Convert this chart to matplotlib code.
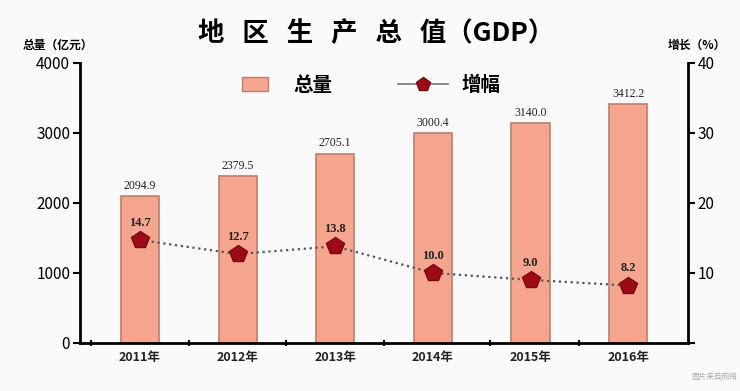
import numpy as np
import matplotlib
matplotlib.use("Agg")
import matplotlib.pyplot as plt
from matplotlib.lines import Line2D
from matplotlib.patches import Patch

plt.rcParams['font.family'] = ['Noto Sans CJK SC', 'DejaVu Sans']

years = ['2011年', '2012年', '2013年', '2014年', '2015年', '2016年']
gdp = [2094.9, 2379.5, 2705.1, 3000.4, 3140.0, 3412.2]
growth = [14.7, 12.7, 13.8, 10.0, 9.0, 8.2]

bar_color = '#f6a68e'
bar_edge = '#b9806e'
mark_color = '#9c0b16'

fig = plt.figure(figsize=(7.4, 3.91), dpi=100)
fig.patch.set_facecolor('#fbfafa')
ax = fig.add_axes([0.108, 0.123, 0.822, 0.716])
ax.set_facecolor('none')
x = np.arange(len(years))

ax.bar(x, gdp, width=0.39, color=bar_color, edgecolor=bar_edge, linewidth=1.2, zorder=2)
for xi, v in zip(x, gdp):
    ax.text(xi, v + 60, f'{v:.1f}', ha='center', va='bottom', fontsize=8.5,
            family='Liberation Serif', color='#222222')

ax.set_xlim(-0.615, 5.615)
ax.set_ylim(0, 4000)
ax.set_yticks([0, 1000, 2000, 3000, 4000])
ax.tick_params(axis='y', labelsize=11, width=1.5, length=5, pad=2)
ax.set_xticks(x)
ax.set_xticklabels(years, fontsize=9, fontweight='bold', color='#222222')
ax.tick_params(axis='x', length=0, pad=6)
ax.set_xticks([-0.5, 0.5, 1.5, 2.5, 3.58, 4.5], minor=True)
ax.tick_params(axis='x', which='minor', length=5, width=1.5, direction='inout')
for s in ['top', 'right']:
    ax.spines[s].set_visible(False)
for s in ['left', 'bottom']:
    ax.spines[s].set_linewidth(2)

ax2 = ax.twinx()
ax2.set_ylim(0, 40)
ax2.set_yticks([0, 10, 20, 30, 40])
ax2.set_yticklabels(['', '10', '20', '30', '40'])
ax2.tick_params(axis='y', labelsize=11, width=1.5, length=5, pad=2)
for s in ['top', 'left', 'bottom']:
    ax2.spines[s].set_visible(False)
ax2.spines['right'].set_linewidth(2)
ax2.plot(x, growth, linestyle=':', color='#555555', linewidth=1.6,
         marker='p', markersize=13, markerfacecolor=mark_color,
         markeredgecolor='#7a0a10', zorder=3)
for xi, v in zip(x, growth):
    ax2.text(xi, v + 1.6, f'{v:.1f}', ha='center', va='bottom', fontsize=9,
             fontweight='bold', family='Liberation Serif', color='#222222')

fig.text(0.508, 0.915, '地   区   生   产   总   值（GDP）', ha='center', va='center',
         fontsize=19, fontweight='bold')
fig.text(0.078, 0.885, '总量（亿元）', ha='center', va='center', fontsize=8.5, fontweight='bold')
fig.text(0.942, 0.885, '增长（%）', ha='center', va='center', fontsize=8.5, fontweight='bold')
fig.text(0.965, 0.035, '图片来自网络', ha='center', va='center', fontsize=5.5, color='#aaaaaa')

leg1 = fig.legend([Patch(facecolor=bar_color, edgecolor=bar_edge)], ['总量'],
                  loc='center', bbox_to_anchor=(0.388, 0.782), frameon=False,
                  prop={'size': 14, 'weight': 'bold'},
                  handlelength=1.3, handleheight=0.8, handletextpad=1.3)
leg2 = fig.legend([Line2D([0], [0], color='#777777', linewidth=1.2, marker='p', markersize=10,
                          markerfacecolor=mark_color, markeredgecolor='#7a0a10')], ['增幅'],
                  loc='center', bbox_to_anchor=(0.607, 0.782), frameon=False,
                  prop={'size': 14, 'weight': 'bold'},
                  handlelength=2.6, handletextpad=0.7)

fig.savefig('out.png', dpi=100, facecolor=fig.get_facecolor())
